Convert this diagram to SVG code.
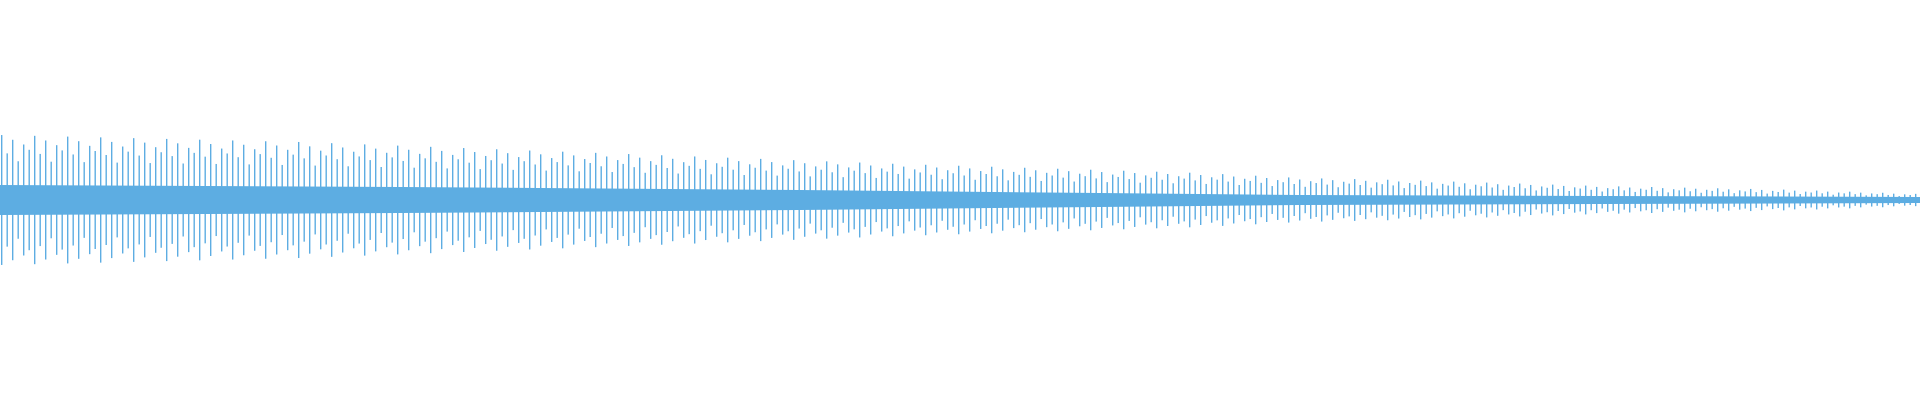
<svg xmlns="http://www.w3.org/2000/svg" width="1920" height="400" viewBox="0 0 1920 400">
<defs>
<polygon id="env" points="0,135 300,142 600,153 900,164 1100,170 1200,173 1300,178 1400,180 1600,186 1800,190 1920,194 1920,206 1800,210 1600,214 1400,220 1300,222 1200,227 1100,230 900,236 600,247 300,258 0,265"/>
<pattern id="p0" width="33" height="400" patternUnits="userSpaceOnUse"><rect x="1" y="0" width="1.4" height="400" fill="#5DADE2"/></pattern>
<pattern id="p1" width="33" height="400" patternUnits="userSpaceOnUse"><rect x="6.5" y="0" width="1.4" height="400" fill="#5DADE2"/></pattern>
<pattern id="p2" width="33" height="400" patternUnits="userSpaceOnUse"><rect x="12" y="0" width="1.4" height="400" fill="#5DADE2"/></pattern>
<pattern id="p3" width="33" height="400" patternUnits="userSpaceOnUse"><rect x="17.5" y="0" width="1.4" height="400" fill="#5DADE2"/></pattern>
<pattern id="p4" width="33" height="400" patternUnits="userSpaceOnUse"><rect x="23" y="0" width="1.4" height="400" fill="#5DADE2"/></pattern>
<pattern id="p5" width="33" height="400" patternUnits="userSpaceOnUse"><rect x="28.5" y="0" width="1.4" height="400" fill="#5DADE2"/></pattern>
<clipPath id="c0"><use href="#env"/></clipPath>
<clipPath id="c1"><use href="#env" transform="translate(0,200) scale(1,0.72) translate(0,-200)"/></clipPath>
<clipPath id="c2"><use href="#env" transform="translate(0,200) scale(1,0.93) translate(0,-200)"/></clipPath>
<clipPath id="c3"><use href="#env" transform="translate(0,200) scale(1,0.6) translate(0,-200)"/></clipPath>
<clipPath id="c4"><use href="#env" transform="translate(0,200) scale(1,0.86) translate(0,-200)"/></clipPath>
<clipPath id="c5"><use href="#env" transform="translate(0,200) scale(1,0.78) translate(0,-200)"/></clipPath>
</defs>
<rect width="1920" height="400" fill="#ffffff"/>
<g id="waveform">
<rect width="1920" height="400" fill="url(#p0)" clip-path="url(#c0)"/>
<rect width="1920" height="400" fill="url(#p1)" clip-path="url(#c1)"/>
<rect width="1920" height="400" fill="url(#p2)" clip-path="url(#c2)"/>
<rect width="1920" height="400" fill="url(#p3)" clip-path="url(#c3)"/>
<rect width="1920" height="400" fill="url(#p4)" clip-path="url(#c4)"/>
<rect width="1920" height="400" fill="url(#p5)" clip-path="url(#c5)"/>
<polygon fill="#5DADE2" points="0,185 400,187 800,190 1100,193 1300,195 1600,196 1920,197 1920,203 1600,204 1300,205 1100,207 800,210 400,213 0,215"/>
</g>
</svg>
